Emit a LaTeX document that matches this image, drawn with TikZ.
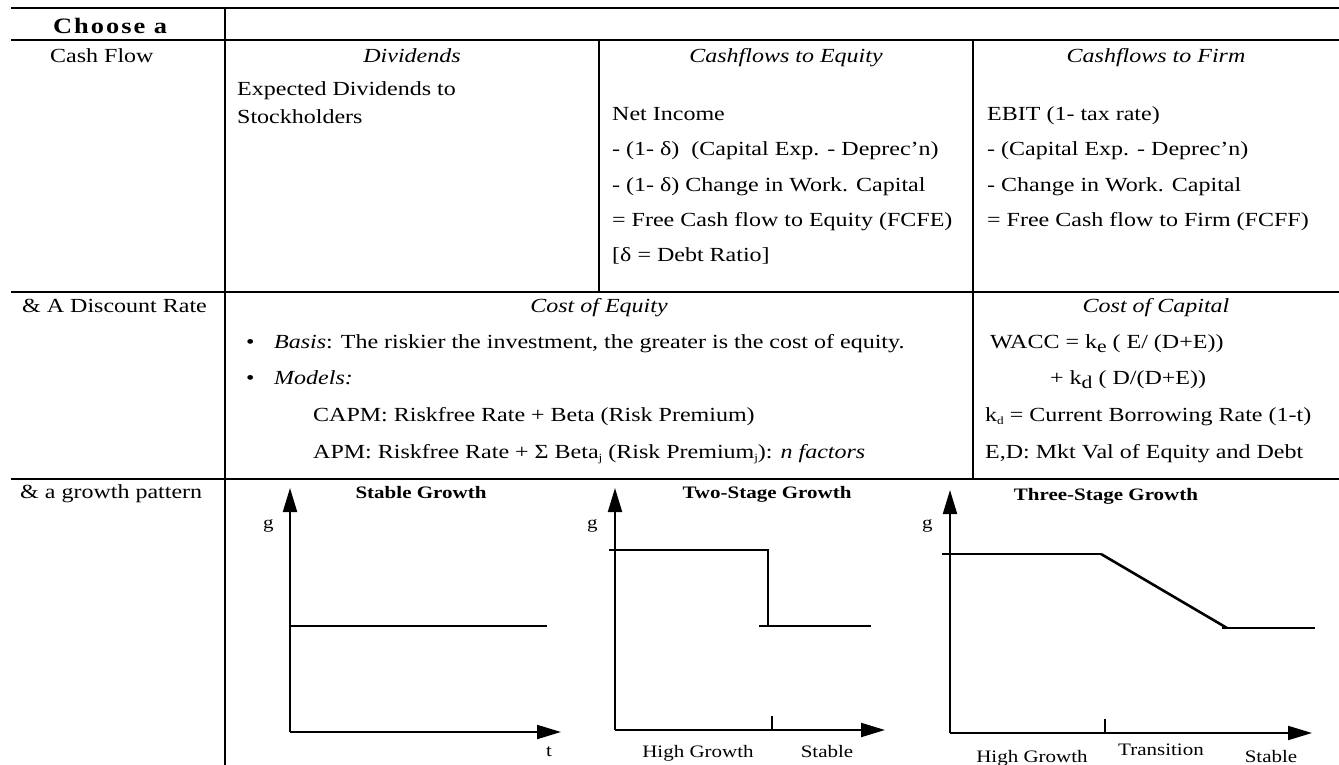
\documentclass[tikz,border=0pt]{standalone}
\usepackage{fontspec}
\setmainfont[FakeStretch=1.2]{Liberation Serif}
\usetikzlibrary{arrows.meta}
\newcommand{\fsA}{\fontsize{20}{24}\selectfont}
\newcommand{\fsB}{\fontsize{17.5}{21}\selectfont}
\newcommand{\subsm}[1]{\raisebox{-3pt}{\fontsize{11}{12}\selectfont #1}}
\newcommand{\subbg}[1]{\raisebox{-4pt}{\fontsize{18}{20}\selectfont #1}}
\begin{document}
\begin{tikzpicture}[x=1pt,y=-1pt,
  rule/.style={line width=2.5pt},
  txt/.style={anchor=base west,inner sep=0pt,font=\fsA},
  ctxt/.style={anchor=base,inner sep=0pt,font=\fsA},
  lbl/.style={anchor=base west,inner sep=0pt,font=\fsB},
  clbl/.style={anchor=base,inner sep=0pt,font=\fsB},
  ttl/.style={anchor=base,inner sep=0pt,font=\fsB\bfseries},
  axisline/.style={line width=2pt,-{Triangle[length=24pt,width=14pt]}},
  curve/.style={line width=1.6pt},
  thick curve/.style={line width=2.6pt}]
\fill[white] (0,0) rectangle (1339,765);
\useasboundingbox (0,0) rectangle (1339,765);
% table rules
\draw[rule] (11,8) -- (1339,8);
\draw[rule] (11,40) -- (1339,40);
\draw[rule] (11,292) -- (1339,292);
\draw[rule] (11,479) -- (1339,479);
\draw[rule] (225,8) -- (225,765);
\draw[rule] (599,40) -- (599,292);
\draw[rule] (973,40) -- (973,479);
% header column
\node[txt,font=\fontsize{22}{26}\selectfont\bfseries\addfontfeature{LetterSpace=9}] (choose) at (53,34) {Choose a};
\node[txt] (cashflow) at (50,63) {Cash Flow};
\node[txt] (discount) at (22,312) {\& A Discount Rate};
\node[txt] (growth) at (20,498) {\& a growth pattern};
% cash flow row
\node[ctxt] (divh) at (412,63) {\itshape Dividends};
\node[ctxt] (cfeh) at (786,63) {\itshape Cashflows to Equity};
\node[ctxt] (cffh) at (1156,63) {\itshape Cashflows to Firm};
\node[txt] (div1) at (237,96) {Expected Dividends to};
\node[txt] (div2) at (237,124) {Stockholders};
\node[txt] (cfe1) at (612,121) {Net Income};
\node[txt] (cfe2) at (612,156) {- (1- δ)\ \ (Capital Exp. - Deprec’n)};
\node[txt] (cfe3) at (612,191) {- (1- δ) Change in Work. Capital};
\node[txt] (cfe4) at (612,226) {= Free Cash flow to Equity (FCFE)};
\node[txt] (cfe5) at (612,261) {[δ = Debt Ratio]};
\node[txt] (cff1) at (987,121) {EBIT (1- tax rate)};
\node[txt] (cff2) at (987,156) {- (Capital Exp. - Deprec’n)};
\node[txt] (cff3) at (987,191) {- Change in Work. Capital};
\node[txt] (cff4) at (987,226) {= Free Cash flow to Firm (FCFF)};
% discount rate row
\node[ctxt] (coeh) at (599,312) {\itshape Cost of Equity};
\node[ctxt] (coch) at (1156,312) {\itshape Cost of Capital};
\node[txt] (b1) at (246,348) {•};
\node[txt] (basis) at (274,348) {\textit{Basis}: The riskier the investment, the greater is the cost of equity.};
\node[txt] (b2) at (246,384) {•};
\node[txt] (models) at (274,384) {\textit{Models:}};
\node[txt] (capm) at (313,421) {CAPM: Riskfree Rate + Beta (Risk Premium)};
\node[txt] (apm) at (313,458) {APM: Riskfree Rate + Σ Beta\subsm{j} (Risk Premium\subsm{j}): \textit{n factors}};
\node[txt] (wacc) at (990,348) {WACC = k\subbg{e} ( E/ (D+E))};
\node[txt] (wacc2) at (1050,384) {+ k\subbg{d} ( D/(D+E))};
\node[txt] (kd) at (985,421) {k\subsm{d} = Current Borrowing Rate (1-t)};
\node[txt] (ed) at (985,458) {E,D: Mkt Val of Equity and Debt};
% stable growth chart
\node[ttl] (t1) at (421,498) {Stable Growth};
\node[lbl] (g1) at (263,528) {g};
\node[lbl] (tt1) at (546,756) {t};
\coordinate (o1) at (290,732);
\draw[axisline] (o1) -- (290,488);
\draw[axisline] (o1) -- (561,732);
\draw[curve] (290,626) -- (547,626);
% two-stage growth chart
\node[ttl] (t2) at (767,498) {Two-Stage Growth};
\node[lbl] (g2) at (587,528) {g};
\node[clbl] (hg2) at (698,757) {High Growth};
\node[clbl] (st2) at (827,757) {Stable};
\coordinate (o2) at (615,730);
\draw[axisline] (o2) -- (615,488);
\draw[axisline] (o2) -- (885,730);
\draw[curve] (609,550) -- (768,550) -- (768,626);
\draw[curve] (759,626) -- (871,626);
\draw[curve] (772,716) -- (772,730);
% three-stage growth chart
\node[ttl] (t3) at (1106,500) {Three-Stage Growth};
\node[lbl] (g3) at (922,528) {g};
\node[clbl] (hg3) at (1032,762) {High Growth};
\node[clbl] (tr3) at (1161,755) {Transition};
\node[clbl] (st3) at (1271,762) {Stable};
\coordinate (o3) at (950,733);
\draw[axisline] (o3) -- (950,490);
\draw[axisline] (o3) -- (1312,733);
\draw[curve] (942,554) -- (1101,554);
\draw[thick curve] (1101,554) -- (1227,628);
\draw[curve] (1222,628) -- (1315,628);
\draw[curve] (1105,719) -- (1105,733);
\end{tikzpicture}
\end{document}
